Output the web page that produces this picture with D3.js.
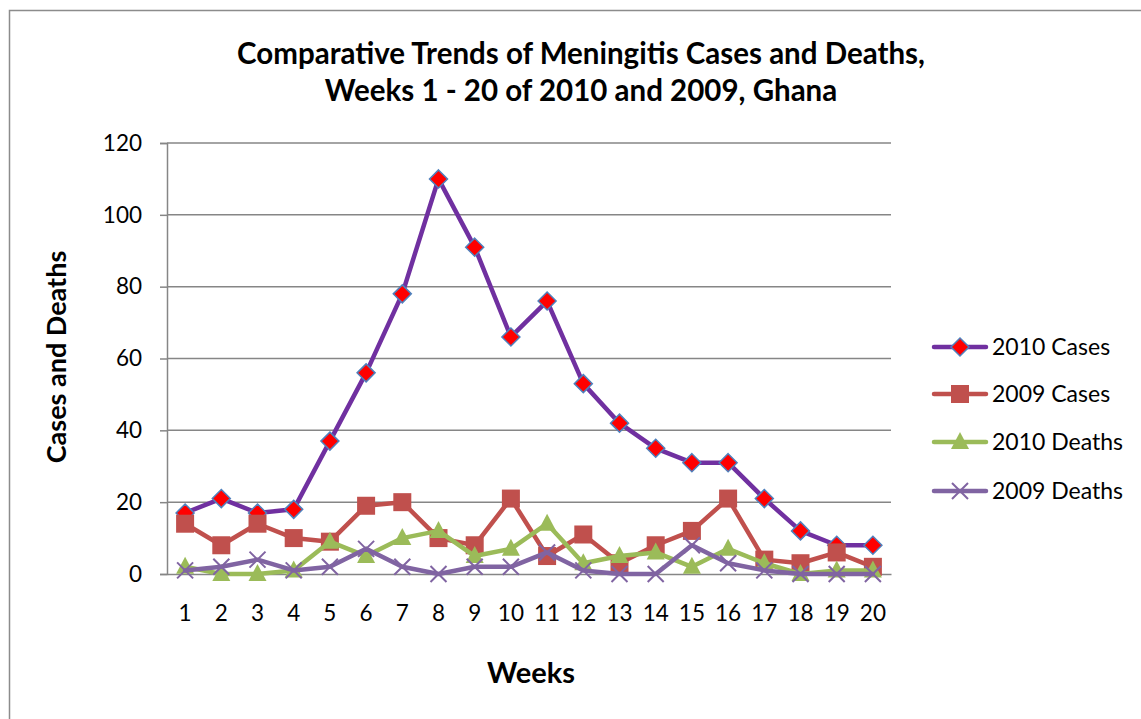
<!DOCTYPE html>
<html><head><meta charset="utf-8">
<script src="https://cdn.jsdelivr.net/npm/d3@7"></script>
<style>body{margin:0;background:#fff;} svg{display:block;}</style>
</head><body>
<svg id="c" width="1141" height="719"></svg>
<script>
const weeks = ["1","2","3","4","5","6","7","8","9","10","11","12","13","14","15","16","17","18","19","20"];
const cases2010 = [17,21,17,18,37,56,78,110,91,66,76,53,42,35,31,31,21,12,8,8];
const cases2009 = [14,8,14,10,9,19,20,10,8,21,5,11,3,8,12,21,4,3,6,2];
const deaths2010 = [2,0,0,1,9,5,10,12,5,7,14,3,5,6,2,7,3,0,1,1];
const deaths2009 = [1,2,4,1,2,7,2,0,2,2,6,1,0,0,8,3,1,0,0,0];
const yTicks = [0,20,40,60,80,100,120];
const seriesNames = ["2010 Cases","2009 Cases","2010 Deaths","2009 Deaths"];
const titleLines = ["Comparative Trends of Meningitis Cases and Deaths,","Weeks 1 - 20 of 2010 and 2009, Ghana"];

const FONT = "Lato, 'Open Sans', sans-serif";
const svg = d3.select("#c");
svg.append("rect").attr("x",9.5).attr("y",10.5).attr("width",1140).attr("height",720)
  .attr("fill","#fff").attr("stroke","#8c8c8c").attr("stroke-width",1.5);

const L=167, R=891, T=143, B=574;
const x = d3.scaleBand().domain(weeks).range([L,R]);
const y = d3.scaleLinear().domain([0,120]).range([B,T]);
const cx = d => x(d)+x.bandwidth()/2;

// grid
svg.append("g").selectAll("line").data(yTicks.filter(v=>v>0)).join("line")
  .attr("x1",L).attr("x2",R).attr("y1",d=>y(d)).attr("y2",d=>y(d))
  .attr("stroke","#868686").attr("stroke-width",1.5);

// y axis
const ya = svg.append("g").attr("transform",`translate(${L},0)`)
  .call(d3.axisLeft(y).tickValues(yTicks).tickSize(7).tickPadding(18));
ya.select(".domain").attr("stroke","#868686").attr("stroke-width",1.5);
ya.selectAll(".tick line").attr("stroke","#868686").attr("stroke-width",1.5);
ya.selectAll("text").attr("font-family",FONT).attr("font-size",22.5).attr("fill","#000");

// x axis
const xa = svg.append("g").attr("transform",`translate(0,${B})`)
  .call(d3.axisBottom(x).tickSize(0).tickPadding(31));
xa.select(".domain").attr("stroke","#868686").attr("stroke-width",1.5);
xa.selectAll("text").attr("font-family",FONT).attr("font-size",22.5).attr("fill","#000");

const series = [
  {name:seriesNames[0], data:cases2010, color:"#7030A0", marker:"diamond"},
  {name:seriesNames[1], data:cases2009, color:"#C0504D", marker:"square"},
  {name:seriesNames[2], data:deaths2010, color:"#9BBB59", marker:"triangle"},
  {name:seriesNames[3], data:deaths2009, color:"#8064A2", marker:"x"}
];

function drawMarker(g, type, color){
  if(type==="diamond"){
    g.append("path").attr("d","M0,-9L9,0L0,9L-9,0Z").attr("fill","#FF0000").attr("stroke","#4F81BD").attr("stroke-width",1.5);
  } else if(type==="square"){
    g.append("rect").attr("x",-9).attr("y",-9).attr("width",18).attr("height",18).attr("fill",color);
  } else if(type==="triangle"){
    g.append("path").attr("d","M0,-10L9,7L-9,7Z").attr("fill",color);
  } else {
    g.append("path").attr("d","M-8,-8L8,8M-8,8L8,-8").attr("stroke",color).attr("stroke-width",2).attr("fill","none");
  }
}

const line = d3.line().x((d,i)=>cx(weeks[i])).y(d=>y(d));
series.forEach(s=>{
  svg.append("path").datum(s.data).attr("d",line).attr("fill","none")
    .attr("stroke",s.color).attr("stroke-width",4.5).attr("stroke-linejoin","round").attr("stroke-linecap","round");
  s.data.forEach((v,i)=>{
    const g = svg.append("g").attr("transform",`translate(${cx(weeks[i])},${y(v)})`);
    drawMarker(g, s.marker, s.color);
  });
});

// title
svg.append("g").selectAll("text").data(titleLines).join("text")
  .attr("x",581).attr("y",(d,i)=>i===0?64:101)
  .attr("text-anchor","middle").attr("font-family",FONT).attr("font-weight","bold")
  .attr("font-size",29.5).attr("fill","#000").text(d=>d);

// axis titles
svg.append("text").attr("x",531).attr("y",683).attr("text-anchor","middle")
  .attr("font-family",FONT).attr("font-weight","bold").attr("font-size",29).text("Weeks");
svg.append("text").attr("transform","translate(66,357) rotate(-90)").attr("text-anchor","middle")
  .attr("font-family",FONT).attr("font-weight","bold").attr("font-size",27).text("Cases and Deaths");

// legend
const legY = [347,394,442,491];
series.forEach((s,i)=>{
  const g = svg.append("g").attr("transform",`translate(0,${legY[i]})`);
  g.append("line").attr("x1",934).attr("x2",986).attr("y1",0).attr("y2",0)
    .attr("stroke",s.color).attr("stroke-width",4.5).attr("stroke-linecap","round");
  const m = g.append("g").attr("transform","translate(960,0)");
  drawMarker(m, s.marker, s.color);
  g.append("text").attr("x",992).attr("y",8).attr("font-family",FONT).attr("font-size",23).attr("fill","#000").text(s.name);
});
</script>
</body></html>
